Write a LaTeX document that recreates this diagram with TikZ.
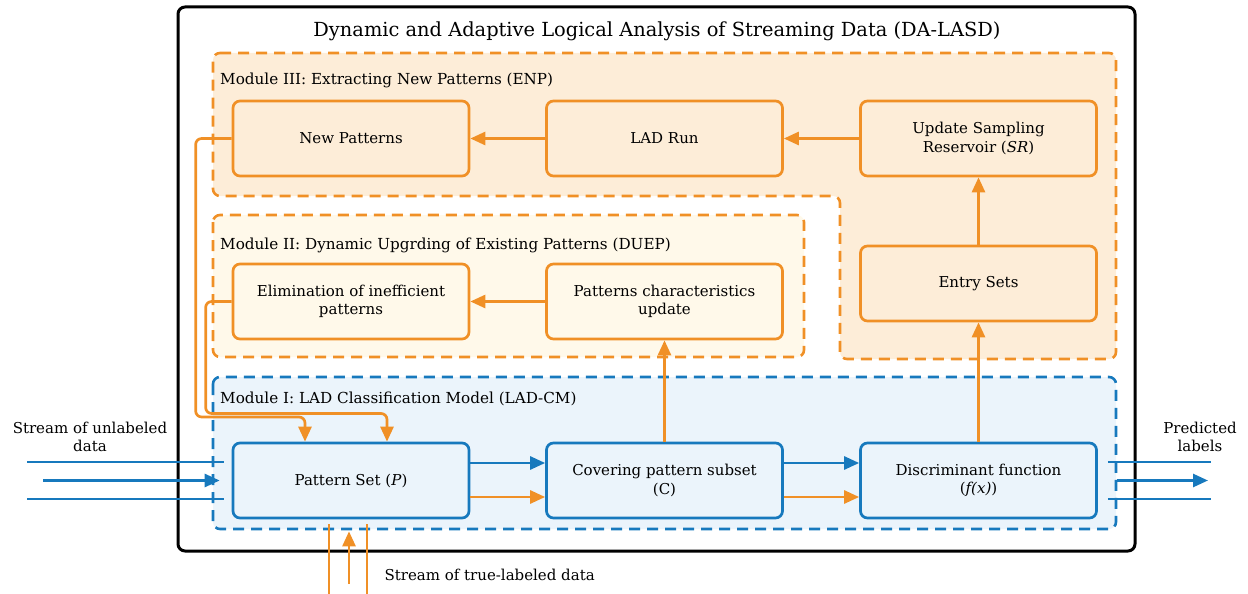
\documentclass[tikz,border=0pt]{standalone}
\usepackage{fontspec}
\setmainfont{DejaVu Serif}
\usetikzlibrary{arrows.meta}
\definecolor{lasdorange}{RGB}{240,144,38}
\definecolor{lasdblue}{RGB}{23,121,189}
\definecolor{modIIIfill}{RGB}{253,237,216}
\definecolor{modIIfill}{RGB}{255,249,234}
\definecolor{modIfill}{RGB}{235,244,251}
\begin{document}
\begin{tikzpicture}[x=1pt, y=-1pt, line join = round,
	box/.style={draw, rounded corners=7pt, line width=2.7pt, minimum width=236pt, minimum height=75pt, align=center, inner sep=0pt, font=\fontsize{15}{18.5}\selectfont},
	obox/.style={box, draw=lasdorange},
	bbox/.style={box, draw=lasdblue, fill=modIfill},
	module/.style={line width=2.6pt, dash pattern=on 11pt off 7pt, rounded corners=7pt},
	modlabel/.style={anchor=west, inner sep=0pt, font=\fontsize{15.2}{18}\selectfont},
	oflow/.style={draw=lasdorange, line width=2.7pt, rounded corners=6pt, -{Triangle[length=15pt, width=13pt]}},
	bflow/.style={draw=lasdblue, line width=2.7pt, -{Triangle[length=15pt, width=13pt]}},
	oline/.style={draw=lasdorange, line width=2.7pt},
	bline/.style={draw=lasdblue, line width=2.7pt}]
	\useasboundingbox (0,0) rectangle (1248,594);
	% frame and title
	\draw[line width=3pt, rounded corners=7pt] (178,7) rectangle (1135,551);
	\node (title) at (657,31) {\fontsize{19.4}{23}\selectfont Dynamic and Adaptive Logical Analysis of Streaming Data (DA-LASD)};
	% modules
	\draw[module, draw=lasdorange, fill=modIIIfill] (213,53) -- (1116,53) -- (1116,359) -- (840,359) -- (840,196) -- (213,196) -- cycle;
	\draw[module, draw=lasdorange, fill=modIIfill] (213,215) rectangle (804,357);
	\draw[module, draw=lasdblue, fill=modIfill] (213,377) rectangle (1116,529);
	\node[modlabel] (m3) at (220,80) {Module III: Extracting New Patterns (ENP)};
	\node[modlabel] (m2) at (220,245) {Module II: Dynamic Upgrding of Existing Patterns (DUEP)};
	\node[modlabel] (m1) at (220,399) {Module I: LAD Classification Model (LAD-CM)};
	% boxes
	\node[obox, fill=modIIIfill] (np) at (351,138.5) {New Patterns};
	\node[obox, fill=modIIIfill] (lad) at (664.5,138.5) {LAD Run};
	\node[obox, fill=modIIIfill] (sr) at (978.5,138.5) {Update Sampling\\Reservoir (\textit{SR})};
	\node[obox, fill=modIIIfill] (es) at (978.5,283.5) {Entry Sets};
	\node[obox, fill=modIIfill] (el) at (351,301.5) {Elimination of inefficient\\patterns};
	\node[obox, fill=modIIfill] (pc) at (664.5,301.5) {Patterns characteristics\\update};
	\node[bbox] (ps) at (351,480.5) {Pattern Set (\textit{P})};
	\node[bbox] (cp) at (664.5,480.5) {Covering pattern subset\\(C)};
	\node[bbox] (df) at (978.5,480.5) {Discriminant function\\(\textit{f(x)})};
	% flows
	\draw[bflow] ([yshift=17.5pt]ps.east) -- ([yshift=17.5pt]cp.west);
	\draw[bflow] ([yshift=17.5pt]cp.east) -- ([yshift=17.5pt]df.west);
	\draw[oflow] ([yshift=-16.5pt]ps.east) -- ([yshift=-16.5pt]cp.west);
	\draw[oflow] ([yshift=-16.5pt]cp.east) -- ([yshift=-16.5pt]df.west);
	\draw[oflow] (cp.north) -- (pc.south);
	\draw[oflow] (df.north) -- (es.south);
	\draw[oflow] (es.north) -- (sr.south);
	\draw[oflow] (sr.west) -- (lad.east);
	\draw[oflow] (lad.west) -- (np.east);
	\draw[oflow] (pc.west) -- (el.east);
	\draw[oflow] (np.west) -- ++(-36,0) -- ++(0,278.5) -| ([xshift=-46pt]ps.north);
	\draw[oflow] (el.west) -- ++(-26,0) -- ++(0,112) -| ([xshift=36pt]ps.north);
	% input and output streams
	\coordinate (inA) at (27,462);
	\coordinate (inB) at (43,480.5);
	\coordinate (inC) at (27,499);
	\draw[bline] (inA) -- ([xshift=-8pt, yshift=18.5pt]ps.west);
	\draw[bflow] (inB) -- ([xshift=-12pt]ps.west);
	\draw[bline] (inC) -- ([xshift=-8pt, yshift=-18.5pt]ps.west);
	\coordinate (outA) at (1211,462);
	\coordinate (outB) at (1208,480.5);
	\coordinate (outC) at (1211,499);
	\draw[bline] ([xshift=10pt, yshift=18.5pt]df.east) -- (outA);
	\draw[bflow] ([xshift=19pt]df.east) -- (outB);
	\draw[bline] ([xshift=10pt, yshift=-18.5pt]df.east) -- (outC);
	\coordinate (trA) at (329,594);
	\coordinate (trB) at (349,584);
	\coordinate (trC) at (367,594);
	\draw[oline] (trA) -- ([xshift=-22pt, yshift=-5pt]ps.south);
	\draw[oflow] (trB) -- ([xshift=-2pt, yshift=-12pt]ps.south);
	\draw[oline] (trC) -- ([xshift=16pt, yshift=-5pt]ps.south);
	% labels
	\node[align=center, font=\fontsize{15}{18.5}\selectfont] (inlabel) at (90,437) {Stream of unlabeled\\data};
	\node[align=center, font=\fontsize{15}{18.5}\selectfont] (outlabel) at (1200,437) {Predicted\\labels};
	\node[anchor=west, font=\fontsize{15}{18}\selectfont] (trlabel) at (381,575) {Stream of true-labeled data};
\end{tikzpicture}
\end{document}
